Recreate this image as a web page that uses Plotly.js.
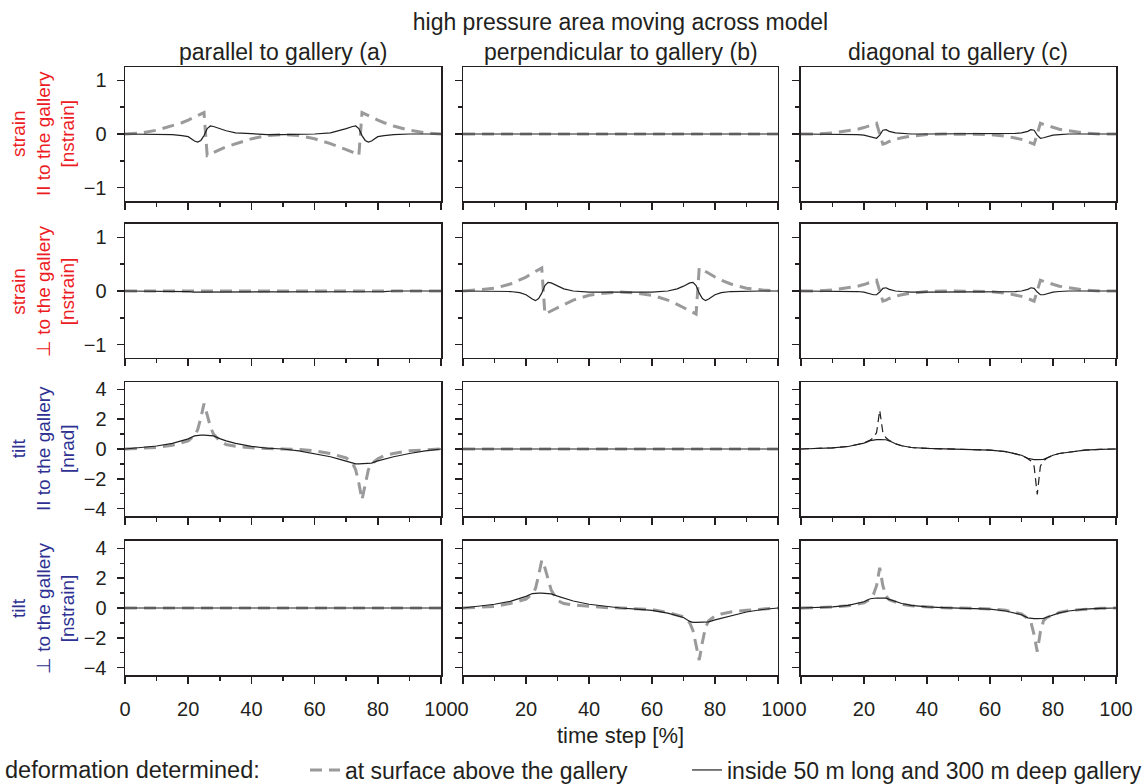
<!DOCTYPE html>
<html><head><meta charset="utf-8">
<script src="https://cdn.plot.ly/plotly-3.0.1.min.js"></script>
<style>html,body{margin:0;padding:0;background:#fff}</style>
</head><body><div id="chart" style="width:1146px;height:784px"></div>
<script>
// time step [%]
const timeStep = [0,5,10,15,18,20,22,23,24,25,26,27,28,30,32,35,40,45,50,55,60,65,68,70,72,73,74,75,76,77,78,80,82,85,90,95,100];

const colTitles = ['parallel to gallery (a)', 'perpendicular to gallery (b)', 'diagonal to gallery (c)'];
const rowTitles = ['strain<br>II to the gallery<br>[nstrain]', 'strain<br>⊥ to the gallery<br>[nstrain]',
                   'tilt<br>II to the gallery<br>[nrad]', 'tilt<br>⊥ to the gallery<br>[nstrain]'];
const xTickVals = [0,20,40,60,80,100];
const strainTickVals = [-1,0,1];
const tiltTickVals = [-4,-2,0,2,4];

// strain parallel to gallery (row 1)
const strainPar_a_surface = [0,0.02,0.07,0.15,0.21,0.26,0.31,0.34,0.37,0.40,-0.40,-0.37,-0.34,-0.29,-0.24,-0.18,-0.09,-0.03,-0.01,-0.03,-0.09,-0.18,-0.24,-0.29,-0.34,-0.37,-0.40,0.40,0.37,0.34,0.31,0.26,0.21,0.15,0.07,0.02,0];
const strainPar_a_gallery = [0,0,0,-0.01,-0.03,-0.05,-0.13,-0.15,-0.12,-0.03,0.10,0.15,0.14,0.10,0.06,0.02,0,-0.01,-0.01,-0.01,0,0.02,0.06,0.10,0.14,0.15,0.10,-0.03,-0.12,-0.15,-0.13,-0.05,-0.03,-0.01,0,0,0];
const strainPar_b_surface = [0,0,0,0,0,0,0,0,0,0,0,0,0,0,0,0,0,0,0,0,0,0,0,0,0,0,0,0,0,0,0,0,0,0,0,0,0];
const strainPar_b_gallery = [0,0,0,0,0,0,0,0,0,0,0,0,0,0,0,0,0,0,0,0,0,0,0,0,0,0,0,0,0,0,0,0,0,0,0,0,0];
const strainPar_c_surface = [0,0,0.02,0.06,0.09,0.12,0.16,0.18,0.20,0.0,-0.19,-0.17,-0.14,-0.10,-0.07,-0.04,-0.01,0,0,0,-0.01,-0.04,-0.07,-0.10,-0.14,-0.17,-0.19,0.0,0.20,0.18,0.16,0.12,0.09,0.06,0.02,0,0];
const strainPar_c_gallery = [0,0,0,0,-0.01,-0.02,-0.05,-0.07,-0.08,-0.02,0.07,0.08,0.05,0.02,0.01,0,0,0,0,0,0,0,0.01,0.02,0.05,0.08,0.07,-0.02,-0.08,-0.07,-0.05,-0.02,-0.01,0,0,0,0];

// strain perpendicular to gallery (row 2)
const strainPerp_a_surface = [0,0,0,0,0,0,0,0,0,0,0,0,0,0,0,0,0,0,0,0,0,0,0,0,0,0,0,0,0,0,0,0,0,0,0,0,0];
const strainPerp_a_gallery = [0,0,0,0,-0.01,-0.01,-0.02,-0.02,-0.02,-0.02,-0.02,-0.02,-0.02,-0.02,-0.02,-0.02,-0.02,-0.02,-0.02,-0.02,-0.02,-0.02,-0.02,-0.02,-0.02,-0.02,-0.02,-0.02,-0.02,-0.02,-0.02,-0.01,-0.01,0,0,0,0];
const strainPerp_b_surface = [0,0.02,0.05,0.13,0.20,0.26,0.33,0.36,0.40,0.43,-0.43,-0.40,-0.37,-0.31,-0.25,-0.17,-0.08,-0.04,-0.02,-0.04,-0.08,-0.17,-0.25,-0.31,-0.37,-0.40,-0.43,0.43,0.40,0.36,0.33,0.26,0.20,0.13,0.05,0.02,0];
const strainPerp_b_gallery = [0,0,0,-0.01,-0.03,-0.07,-0.15,-0.18,-0.14,-0.04,0.10,0.16,0.15,0.09,0.04,0,-0.02,-0.02,-0.02,-0.02,-0.02,0,0.04,0.09,0.15,0.16,0.10,-0.04,-0.14,-0.18,-0.15,-0.07,-0.03,-0.01,0,0,0];
const strainPerp_c_surface = [0,0,0.02,0.06,0.09,0.12,0.16,0.18,0.20,0.0,-0.19,-0.17,-0.14,-0.10,-0.07,-0.04,-0.01,0,0,0,-0.01,-0.04,-0.07,-0.10,-0.14,-0.17,-0.19,0.0,0.20,0.18,0.16,0.12,0.09,0.06,0.02,0,0];
const strainPerp_c_gallery = [0,0,0,0,-0.01,-0.02,-0.05,-0.07,-0.07,-0.02,0.05,0.06,0.03,0,-0.01,-0.02,-0.02,-0.02,-0.02,-0.02,-0.02,-0.02,-0.01,0,0.03,0.06,0.05,-0.02,-0.07,-0.07,-0.05,-0.02,-0.01,0,0,0,0];

// tilt parallel to gallery (row 3)
const tiltPar_a_surface = [0,0.03,0.1,0.25,0.4,0.55,0.9,1.3,2.1,3.05,2.3,1.5,1.0,0.55,0.3,0.18,0.08,0.02,0,-0.03,-0.12,-0.3,-0.45,-0.6,-0.95,-1.4,-2.3,-3.4,-2.4,-1.4,-1.0,-0.65,-0.45,-0.3,-0.12,-0.04,0];
const tiltPar_a_gallery = [0,0.08,0.2,0.38,0.55,0.68,0.88,0.92,0.93,0.93,0.93,0.92,0.88,0.7,0.55,0.38,0.18,0.05,0,-0.12,-0.3,-0.52,-0.7,-0.82,-0.97,-1.0,-1.0,-1.0,-1.0,-1.0,-0.95,-0.8,-0.68,-0.52,-0.3,-0.12,0];
const tiltPar_b_surface = [0,0,0,0,0,0,0,0,0,0,0,0,0,0,0,0,0,0,0,0,0,0,0,0,0,0,0,0,0,0,0,0,0,0,0,0,0];
const tiltPar_b_gallery = [0,0,0,0,0,0,0,0,0,0,0,0,0,0,0,0,0,0,0,0,0,0,0,0,0,0,0,0,0,0,0,0,0,0,0,0,0];
const tiltPar_c_surface = [0,0.03,0.08,0.17,0.3,0.4,0.6,0.75,1.1,2.6,1.1,0.75,0.58,0.35,0.22,0.1,0.04,0.01,0,-0.02,-0.07,-0.18,-0.3,-0.42,-0.65,-0.8,-1.15,-3.05,-1.15,-0.8,-0.62,-0.42,-0.3,-0.2,-0.08,-0.02,0];
const tiltPar_c_gallery = [0,0.03,0.08,0.17,0.3,0.4,0.56,0.62,0.63,0.63,0.63,0.62,0.55,0.35,0.22,0.1,0.04,0.01,0,-0.02,-0.07,-0.18,-0.3,-0.42,-0.62,-0.69,-0.71,-0.71,-0.71,-0.69,-0.6,-0.42,-0.3,-0.2,-0.08,-0.02,0];

// tilt perpendicular to gallery (row 4)
const tiltPerp_a_surface = [0,0,0,0,0,0,0,0,0,0,0,0,0,0,0,0,0,0,0,0,0,0,0,0,0,0,0,0,0,0,0,0,0,0,0,0,0];
const tiltPerp_a_gallery = [0,0,0,0,0,0,0,0,0,0,0,0,0,0,0,0,0,0,0,0,0,0,0,0,0,0,0,0,0,0,0,0,0,0,0,0,0];
const tiltPerp_b_surface = [0,0.04,0.1,0.3,0.45,0.6,0.95,1.3,2.2,3.2,2.7,1.9,1.2,0.5,0.3,0.2,0.1,0.03,0,-0.03,-0.1,-0.3,-0.45,-0.6,-1.0,-1.5,-2.5,-3.5,-2.3,-1.3,-0.85,-0.55,-0.4,-0.27,-0.15,-0.05,0];
const tiltPerp_b_gallery = [0,0.12,0.25,0.45,0.65,0.78,0.97,1.0,1.0,1.0,1.0,1.0,0.95,0.8,0.65,0.47,0.25,0.1,0,-0.08,-0.16,-0.35,-0.52,-0.64,-0.9,-0.96,-0.96,-0.96,-0.96,-0.96,-0.93,-0.8,-0.7,-0.5,-0.27,-0.1,0];
const tiltPerp_c_surface = [0,0.02,0.06,0.15,0.25,0.35,0.6,0.9,1.5,2.7,1.5,0.8,0.55,0.38,0.25,0.15,0.06,0.02,0,-0.02,-0.06,-0.15,-0.27,-0.4,-0.7,-0.95,-1.8,-2.93,-1.6,-0.85,-0.65,-0.45,-0.3,-0.17,-0.07,-0.02,0];
const tiltPerp_c_gallery = [0,0.03,0.08,0.18,0.3,0.42,0.62,0.67,0.67,0.67,0.67,0.66,0.58,0.42,0.3,0.18,0.07,0.02,0,-0.02,-0.07,-0.2,-0.33,-0.45,-0.66,-0.71,-0.71,-0.71,-0.71,-0.7,-0.62,-0.45,-0.33,-0.2,-0.08,-0.02,0];

const panels = [
  [[strainPar_a_surface, strainPar_a_gallery], [strainPar_b_surface, strainPar_b_gallery], [strainPar_c_surface, strainPar_c_gallery]],
  [[strainPerp_a_surface, strainPerp_a_gallery], [strainPerp_b_surface, strainPerp_b_gallery], [strainPerp_c_surface, strainPerp_c_gallery]],
  [[tiltPar_a_surface, tiltPar_a_gallery], [tiltPar_b_surface, tiltPar_b_gallery], [tiltPar_c_surface, tiltPar_c_gallery]],
  [[tiltPerp_a_surface, tiltPerp_a_gallery], [tiltPerp_b_surface, tiltPerp_b_gallery], [tiltPerp_c_surface, tiltPerp_c_gallery]]
];

const INK = '#231f20';
const GREY = '#9a9a9c';
const RED = '#ed1c24';
const BLUE = '#2e3192';
const FONT = 'Liberation Sans, Arial, sans-serif';

// layout geometry (paper fractions)
const colDomains = [[0, 0.3189], [0.3411, 0.6589], [0.6821, 1.0]];
const rowDomains = [[0.7796, 1.0], [0.5214, 0.7418], [0.2615, 0.4819], [0, 0.2204]];
const rowColors = [RED, RED, BLUE, BLUE];
const legendY = (675 - 770) / 608;

const traces = [];
const layout = {
  width: 1146, height: 784,
  margin: {l: 125, r: 30, t: 67, b: 109, autoexpand: false},
  paper_bgcolor: '#fff', plot_bgcolor: '#fff',
  font: {family: FONT, size: 20, color: INK},
  showlegend: true,
  title: {text: 'high pressure area moving across model', font: {size: 23, color: INK},
          x: 0.5, xref: 'paper', xanchor: 'center', y: 1 - 22/784, yref: 'container', yanchor: 'middle'},
  legend: {orientation: 'h', x: (305 - 125) / 991, xanchor: 'left', y: legendY, yanchor: 'middle',
           font: {size: 23, color: INK}, itemwidth: 30, bgcolor: 'rgba(0,0,0,0)'},
  legend2: {orientation: 'h', x: (687 - 125) / 991, xanchor: 'left', y: legendY, yanchor: 'middle',
           font: {size: 23, color: INK}, itemwidth: 30, bgcolor: 'rgba(0,0,0,0)'},
  annotations: [{text: 'deformation determined:', xref: 'paper', x: (3 - 125) / 991, xanchor: 'left',
                 yref: 'paper', y: legendY, yanchor: 'middle', showarrow: false, font: {size: 23.5, color: INK}}]
};

for (let r = 0; r < 4; r++) {
  for (let c = 0; c < 3; c++) {
    const n = r * 3 + c + 1;
    const xa = 'x' + (n === 1 ? '' : n);
    const ya = 'y' + (n === 1 ? '' : n);
    const xKey = 'xaxis' + (n === 1 ? '' : n);
    const yKey = 'yaxis' + (n === 1 ? '' : n);
    const isStrain = r < 2;
    let surfLine = {color: GREY, width: 3, dash: '12px,7px'};
    if (r === 2 && c === 2) surfLine = {color: INK, width: 1.2, dash: '8px,5px'};
    traces.push({x: timeStep, y: panels[r][c][0], xaxis: xa, yaxis: ya, type: 'scatter', mode: 'lines',
                 name: 'at surface above the gallery', line: surfLine, showlegend: n === 1, legend: 'legend', hoverinfo: 'skip'});
    traces.push({x: timeStep, y: panels[r][c][1], xaxis: xa, yaxis: ya, type: 'scatter', mode: 'lines',
                 name: 'inside 50 m long and 300 m deep gallery', line: {color: INK, width: 1.2}, showlegend: n === 1, legend: 'legend2', hoverinfo: 'skip'});
    layout[xKey] = {
      domain: colDomains[c], anchor: ya, range: [0, 100], tickvals: xTickVals,
      showticklabels: r === 3, ticks: 'outside', ticklen: 7, tickwidth: 1.5, tickcolor: INK,
      minor: {tickvals: [10,30,50,70,90], ticks: 'outside', ticklen: 4, tickwidth: 1.5, tickcolor: INK},
      showline: true, mirror: true, linecolor: INK, linewidth: 1.5,
      showgrid: false, zeroline: false, tickfont: {size: 20, color: INK}, ticklabelstandoff: 8
    };
    layout[yKey] = {
      domain: rowDomains[r], anchor: xa,
      range: isStrain ? [-1.25, 1.25] : [-4.5, 4.5],
      tickvals: isStrain ? strainTickVals : tiltTickVals,
      minor: {tickvals: isStrain ? [-0.5, 0.5] : [-3, -1, 1, 3], ticks: 'outside', ticklen: 4, tickwidth: 1.5, tickcolor: INK},
      showticklabels: c === 0, ticks: 'outside', ticklen: 7, tickwidth: 1.5, tickcolor: INK,
      showline: true, mirror: true, linecolor: INK, linewidth: 1.5,
      showgrid: false, zeroline: false, tickfont: {size: 20, color: INK}, ticklabelstandoff: 6
    };
    if (r === 0) {
      layout.annotations.push({text: colTitles[c], xref: xa + ' domain', x: 0.5, xanchor: 'center',
        yref: 'paper', y: (675 - 52) / 608, yanchor: 'middle', showarrow: false, font: {size: 23, color: INK}});
    }
    if (c === 0) {
      layout.annotations.push({text: rowTitles[r], xref: 'paper', x: (43 - 125) / 991, xanchor: 'center',
        yref: ya + ' domain', y: 0.5, yanchor: 'middle', textangle: -90, showarrow: false,
        font: {size: 19, color: rowColors[r]}});
    }
  }
}
layout.annotations.push({text: 'time step [%]', xref: 'x11 domain', x: 0.5, xanchor: 'center',
  yref: 'paper', y: (675 - 735) / 608, yanchor: 'middle', showarrow: false, font: {size: 22, color: INK}});

Plotly.newPlot('chart', traces, layout, {staticPlot: true, displayModeBar: false});
</script>
</body></html>
